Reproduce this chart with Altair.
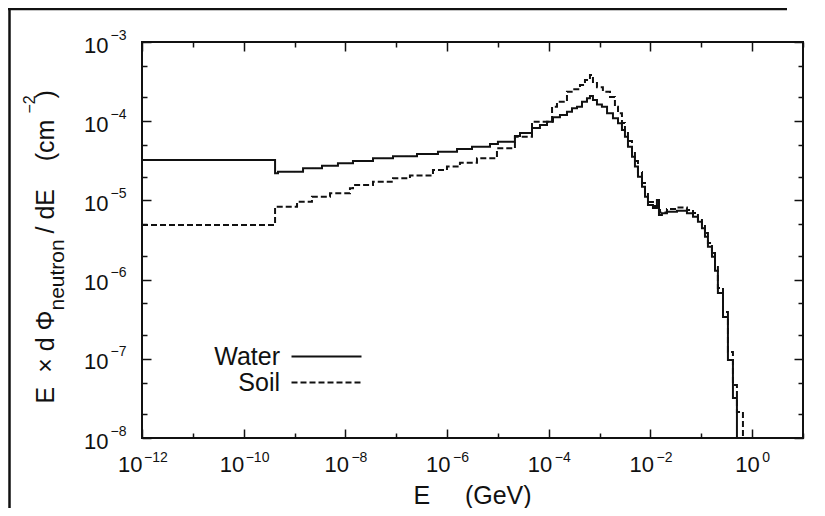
import altair as alt
import pandas as pd

# ---------------- data ----------------
series_names = ["Water", "Soil"]

water_E = [1e-12, 4.14e-10, 4.73e-10, 1.47e-9, 3.47e-9, 7.14e-9, 1.41e-8, 3.49e-8, 8.63e-8,
           2.56e-7, 6.62e-7, 1.57e-6, 3.09e-6, 6.98e-6, 1.0e-5, 2.16e-5, 2.72e-5, 4.68e-5,
           6.71e-5, 9.23e-5, 1.21e-4, 1.66e-4, 2.28e-4, 2.86e-4, 3.59e-4, 4.50e-4, 5.64e-4,
           6.46e-4, 7.40e-4, 8.87e-4, 1.11e-3, 1.40e-3, 1.83e-3, 2.30e-3, 2.75e-3, 3.15e-3,
           3.61e-3, 4.33e-3, 4.95e-3, 5.68e-3, 6.81e-3, 7.80e-3, 8.93e-3, 1.12e-2, 1.34e-2,
           1.47e-2, 1.68e-2, 2.11e-2, 3.32e-2, 5.22e-2, 6.86e-2, 8.59e-2, 0.103, 0.118, 0.135,
           0.162, 0.186, 0.212, 0.267, 0.334, 0.419, 0.502]
water_F = [3.24e-5, 2.20e-5, 2.30e-5, 2.54e-5, 2.74e-5, 2.94e-5, 3.14e-5, 3.40e-5, 3.6e-5,
           3.85e-5, 4.12e-5, 4.46e-5, 4.76e-5, 5.15e-5, 5.51e-5, 6.5e-5, 7.1e-5, 8.2e-5,
           8.95e-5, 9.86e-5, 1.12e-4, 1.20e-4, 1.32e-4, 1.46e-4, 1.52e-4, 1.76e-4, 1.95e-4,
           2.08e-4, 1.85e-4, 1.63e-4, 1.52e-4, 1.26e-4, 1.09e-4, 9.4e-5, 7.74e-5, 6.37e-5,
           4.76e-5, 3.56e-5, 2.67e-5, 1.99e-5, 1.49e-5, 1.11e-5, 8.75e-6, 8.0e-6, 1.01e-5,
           6.54e-6, 6.87e-6, 7.2e-6, 7.41e-6, 6.87e-6, 6.22e-6, 5.38e-6, 4.44e-6, 3.48e-6, 2.60e-6,
           1.95e-6, 1.29e-6, 6.78e-7, 3.37e-7, 9.66e-8, 3.20e-8, 1e-9]

soil_E = [1e-12, 4.14e-10, 1.12e-9, 2.2e-9, 4.98e-9, 1.23e-8, 1.41e-8, 3.49e-8, 8.63e-8,
          1.86e-7, 5.28e-7, 9.95e-7, 1.79e-6, 3.87e-6, 9.57e-6, 2.16e-5, 4.68e-5, 1.16e-4,
          1.45e-4, 2.28e-4, 2.99e-4, 4.11e-4, 5.15e-4, 6.46e-4, 7.40e-4, 8.87e-4, 1.16e-3,
          1.60e-3, 2.0e-3, 2.30e-3, 2.75e-3, 3.15e-3, 3.61e-3, 4.33e-3, 4.95e-3, 5.68e-3,
          6.81e-3, 7.80e-3, 8.93e-3, 1.12e-2, 1.34e-2, 1.54e-2, 2.11e-2, 3.32e-2, 5.22e-2,
          6.86e-2, 8.59e-2, 0.103, 0.118, 0.135, 0.162, 0.186, 0.212, 0.267, 0.334, 0.419,
          0.502, 0.659]
soil_F = [4.89e-6, 8.32e-6, 9.63e-6, 1.11e-5, 1.23e-5, 1.42e-5, 1.56e-5, 1.72e-5, 1.90e-5,
          2.06e-5, 2.42e-5, 2.67e-5, 2.99e-5, 3.40e-5, 4.55e-5, 6.37e-5, 9.86e-5, 1.52e-4,
          1.76e-4, 2.36e-4, 2.53e-4, 2.86e-4, 3.31e-4, 3.83e-4, 3.03e-4, 2.68e-4, 2.36e-4,
          2.02e-4, 1.52e-4, 1.26e-4, 9.49e-5, 7.52e-5, 5.62e-5, 4.2e-5, 3.14e-5, 2.28e-5,
          1.66e-5, 1.24e-5, 9.55e-6, 8.5e-6, 7.57e-6, 7.03e-6, 7.78e-6, 8.13e-6, 7.57e-6,
          6.93e-6, 5.82e-6, 4.89e-6, 3.88e-6, 2.90e-6, 2.17e-6, 1.44e-6, 7.83e-7, 3.90e-7,
          1.22e-7, 4.67e-8, 2.13e-8, 1e-9]

x_label_vals = [1e-12, 1e-10, 1e-8, 1e-6, 1e-4, 1e-2, 1e0]
x_tick_vals = [1e-12, 1e-11, 1e-10, 1e-9, 1e-8, 1e-7, 1e-6, 1e-5, 1e-4, 1e-3, 1e-2, 1e-1, 1e0, 1e1]
y_label_vals = [1e-8, 1e-7, 1e-6, 1e-5, 1e-4, 1e-3]
y_tick_vals = [1e-8, 2e-8, 5e-8, 1e-7, 2e-7, 5e-7, 1e-6, 2e-6, 5e-6, 1e-5, 2e-5, 5e-5,
               1e-4, 2e-4, 5e-4, 1e-3]

df = pd.concat([
    pd.DataFrame({"E": water_E, "F": water_F, "series": "Water"}),
    pd.DataFrame({"E": soil_E, "F": soil_F, "series": "Soil"}),
], ignore_index=True)

W, H = 661, 396
PAD = {"left": 134, "top": 34, "right": 14, "bottom": 70}
FONT = "Liberation Sans"
INK = "#111111"

xs = alt.Scale(type="log", domain=[1e-12, 10], nice=False)
ys = alt.Scale(type="log", domain=[1e-8, 1e-3], nice=False)

common = dict(grid=False, domain=False, labelFont=FONT, labelColor=INK, tickColor=INK,
              labelFlush=False, labelOverlap=False, titleFont=FONT, titleColor=INK,
              titleFontWeight="normal")

x_major_test = "abs(round(log(datum.value)/LN10)) % 2 == 0"
y_major_test = "abs(log(datum.value)/LN10 - round(log(datum.value)/LN10)) < 0.01"
exp_expr = ("round(log(datum.value)/LN10) < 0 ? '\u2212' + abs(round(log(datum.value)/LN10))"
            " : '' + round(log(datum.value)/LN10)")

# x axes
A1 = alt.Axis(orient="bottom", values=x_label_vals, labelExpr="'10'", labelFontSize=22,
              labelAlign="right", labelBaseline="top", labelPadding=16,
              labelOffset={"condition": [{"test": "datum.value < 1e-9", "value": 0},
                                         {"test": "datum.value > 0.5", "value": 7}], "value": 3},
              ticks=False, tickSize=0,
              title="E\u00a0\u00a0\u00a0\u00a0\u00a0(GeV)", titleFontSize=25, titleX=271, titleY=65,
              titleAlign="left", titleBaseline="alphabetic", titleAngle=0, **common)
A2 = alt.Axis(orient="bottom", values=x_label_vals, labelExpr=exp_expr, labelFontSize=14,
              labelAlign="left", labelBaseline="top", labelPadding=12,
              labelOffset={"condition": [{"test": "datum.value < 1e-9", "value": 1.5},
                                         {"test": "datum.value > 0.5", "value": 9.5}], "value": 5.5},
              ticks=False, tickSize=0, title=None, **common)
A3 = alt.Axis(orient="top", offset=-H, values=x_tick_vals, labels=False, tickWidth=1.5,
              tickSize={"condition": {"test": x_major_test, "value": 9}, "value": 5},
              title=None, **common)
A4 = alt.Axis(orient="bottom", offset=-H, values=x_tick_vals, labels=False, tickWidth=1.5,
              tickSize={"condition": {"test": x_major_test, "value": 9}, "value": 5},
              title=None, **common)

# y axes (title split in pieces to get the subscript / superscript)
B1 = alt.Axis(orient="left", values=y_label_vals, labelExpr="'10'", labelFontSize=22,
              labelAlign="right", labelBaseline="middle", labelPadding=34, labelOffset=3,
              ticks=False, tickSize=0,
              title="E\u00a0\u00a0\u00d7\u00a0d\u00a0\u03a6", titleFontSize=25, titleAngle=270,
              titleAlign="right", titleBaseline="alphabetic", titleX=-89, titleY=268, **common)
B2 = alt.Axis(orient="left", values=y_label_vals, labelExpr=exp_expr, labelFontSize=14,
              labelAlign="left", labelBaseline="middle", labelPadding=32,
              labelOffset={"expr": "-7"},
              ticks=False, tickSize=0,
              title="neutron", titleFontSize=21, titleAngle=270, titleAlign="left",
              titleBaseline="alphabetic", titleX=-79, titleY=268, **common)
B3 = alt.Axis(orient="right", offset=-W, values=y_tick_vals, labels=False, tickWidth=1.5,
              tickSize={"condition": {"test": y_major_test, "value": 9}, "value": 5},
              title="/\u00a0dE\u00a0\u00a0\u00a0\u00a0(cm", titleFontSize=25, titleAngle=270,
              titleAlign="left", titleBaseline="alphabetic", titleX=-89, titleY=191, **common)
B4 = alt.Axis(orient="left", offset=-W, values=y_tick_vals, labels=False, tickWidth=1.5,
              tickSize={"condition": {"test": y_major_test, "value": 9}, "value": 5},
              title="\u22122", titleFontSize=16, titleAngle=270, titleAlign="left",
              titleBaseline="alphabetic", titleX=34 - 803, titleY=71, **common)
B5 = alt.Axis(orient="left", values=[], labels=False, ticks=False,
              title=")", titleFontSize=25, titleAngle=270, titleAlign="left",
              titleBaseline="alphabetic", titleX=-89, titleY=56, **common)

base = alt.Chart(df)

lines = base.mark_line(interpolate="step-after", clip=True, strokeWidth=2, color=INK).encode(
    x=alt.X("E:Q", scale=xs, axis=A1),
    y=alt.Y("F:Q", scale=ys, axis=B1),
    strokeDash=alt.StrokeDash(
        "series:N",
        scale=alt.Scale(domain=series_names, range=[[1, 0], [6, 3]]),
        legend=alt.Legend(orient="none", legendX=137, legendY=302, title=None,
                          symbolType="M 0,0 H 10", symbolSize=196, symbolStrokeWidth=2,
                          symbolStrokeColor=INK, symbolFillColor="transparent",
                          labelFont=FONT, labelFontSize=25, labelColor=INK,
                          labelAlign="right", labelOffset={"expr": "-24"}, labelLimit=0,
                          padding=0, rowPadding=0),
    ),
)

def ghost(xa, ya):
    return base.mark_point(opacity=0).encode(
        x=alt.X("E:Q", scale=xs, axis=xa),
        y=alt.Y("F:Q", scale=ys, axis=ya),
    )

# outer figure frame (only its left and top sides are inside the picture)
svg_w = W + PAD["left"] + PAD["right"]
svg_h = H + PAD["top"] + PAD["bottom"]
frame_df = pd.DataFrame({"k": [0]})
border_left = alt.Chart(frame_df).mark_rule(color=INK, strokeWidth=2.5).encode(
    x=alt.value(-132.5), y=alt.value(-PAD["top"]), y2=alt.value(svg_h - PAD["top"]))
border_top = alt.Chart(frame_df).mark_rule(color=INK, strokeWidth=2.5).encode(
    x=alt.value(-PAD["left"]), x2=alt.value(svg_w - PAD["left"] - 30), y=alt.value(-33))

chart = alt.layer(
    lines,
    ghost(A2, B2),
    ghost(A3, B3),
    ghost(A4, B4),
    ghost(None, B5),
    border_left,
    border_top,
).resolve_axis(x="independent", y="independent").properties(
    width=W, height=H,
    autosize=alt.AutoSizeParams(type="none"),
    padding=PAD,
    background="white",
).configure_view(stroke=INK, strokeWidth=2)

chart.save("out.html", embed_options={"renderer": "svg", "actions": False})
